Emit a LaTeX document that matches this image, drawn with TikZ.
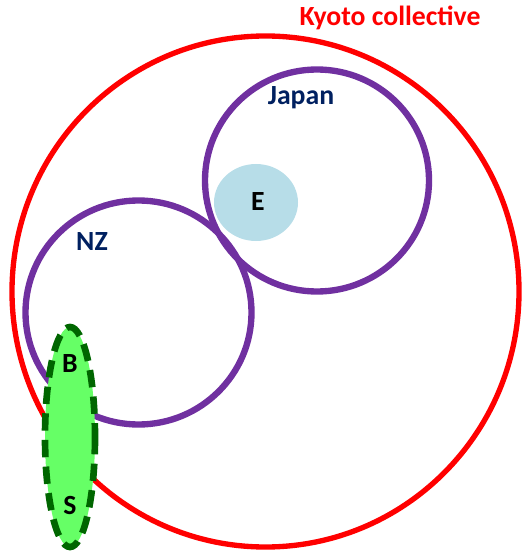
\documentclass[tikz,border=0pt]{standalone}
\usepackage{fontspec}
\setmainfont{Carlito}
\definecolor{kyotored}{HTML}{FF0000}
\definecolor{setpurple}{HTML}{7030A0}
\definecolor{setnavy}{HTML}{002060}
\definecolor{efill}{HTML}{B7DDE8}
\definecolor{bsfill}{HTML}{66FF66}
\definecolor{bsline}{HTML}{006600}
\tikzset{
  setlabel/.style={inner sep=0.75pt, font=\fontsize{20.8}{23}\selectfont\bfseries},
}

\begin{document}
\begin{tikzpicture}[x=0.75pt,y=0.75pt,yscale=-1,xscale=1]
        \useasboundingbox (0,0) rectangle (522,552);

        %Shape: Circle [Kyoto]
        \draw [color=kyotored, line width=4pt] (265.5,291.5) ellipse (253.5 and 255.5);
        %Shape: Circle [Japan]
        \draw [color=setpurple, line width=4.75pt] (317,180.5) ellipse (112 and 111);
        %Shape: Circle [NZ]
        \draw [color=setpurple, line width=4.75pt] (138.5,312.5) ellipse (113 and 112);
        %Shape: Ellipse [E]
        \fill [color=efill] (256,202.5) ellipse (42 and 38.5);
        %Shape: Ellipse [B-S]
        \draw [color=bsline, fill=bsfill, line width=5pt, dash pattern={on 13pt off 7pt}] (70,437) ellipse (25 and 110);

        % Text Node
        \draw (390,18) node (kyotolbl) [setlabel, text=kyotored] {Kyoto collective};
        % Text Node
        \draw (301,98) node (japanlbl) [setlabel, text=setnavy] {Japan};
        % Text Node
        \draw (92,242) node (nzlbl) [setlabel, text=setnavy] {NZ};
        % Text Node
        \draw (258,202) node (elbl) [setlabel] {E};
        % Text Node
        \draw (70,364) node (blbl) [setlabel] {B};
        % Text Node
        \draw (70,505) node (slbl) [setlabel] {S};

\end{tikzpicture}
\end{document}
